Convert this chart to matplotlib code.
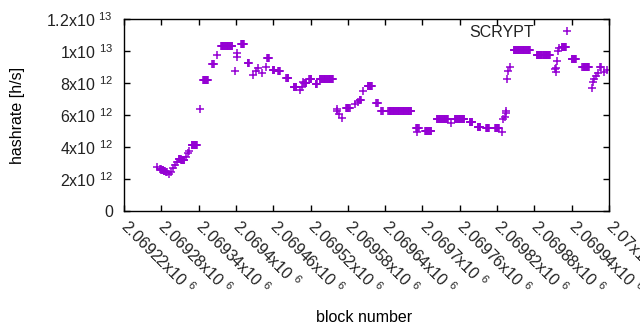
import numpy as np
import matplotlib
matplotlib.use("Agg")
import matplotlib.pyplot as plt

# runs of blocks that share the same hashrate estimate (start, end, value in 1e12 h/s)
run_start = [2069273, 2069278, 2069280, 2069284, 2069288, 2069292, 2069296, 2069299, 2069302, 2069305,
             2069308, 2069312, 2069320, 2069323, 2069325, 2069329, 2069342, 2069347, 2069362, 2069369,
             2069376, 2069399, 2069401, 2069402, 2069408, 2069419, 2069427, 2069432, 2069436, 2069442,
             2069448, 2069450, 2069459, 2069468, 2069481, 2069493, 2069503, 2069506, 2069508, 2069510,
             2069518, 2069528, 2069535, 2069562, 2069563, 2069566, 2069570, 2069577, 2069591, 2069596,
             2069599, 2069604, 2069612, 2069626, 2069634, 2069645, 2069690, 2069691, 2069704, 2069723,
             2069746, 2069752, 2069765, 2069776, 2069789, 2069802, 2069817, 2069828, 2069830, 2069833,
             2069834, 2069835, 2069836, 2069838, 2069841, 2069847, 2069884, 2069894, 2069913, 2069914,
             2069915, 2069916, 2069918, 2069920, 2069924, 2069940, 2069957, 2069973, 2069974, 2069976,
             2069979, 2069982, 2069986, 2069992, 2069997]
run_end = [2069273, 2069279, 2069283, 2069286, 2069289, 2069292, 2069296, 2069299, 2069302, 2069305,
           2069311, 2069317, 2069320, 2069323, 2069325, 2069337, 2069342, 2069355, 2069364, 2069369,
           2069394, 2069399, 2069401, 2069402, 2069413, 2069421, 2069427, 2069432, 2069436, 2069442,
           2069448, 2069453, 2069462, 2069471, 2069484, 2069497, 2069503, 2069506, 2069508, 2069513,
           2069521, 2069530, 2069556, 2069562, 2069563, 2069566, 2069570, 2069583, 2069591, 2069596,
           2069601, 2069604, 2069619, 2069628, 2069636, 2069682, 2069694, 2069691, 2069714, 2069741,
           2069746, 2069764, 2069767, 2069780, 2069793, 2069807, 2069823, 2069828, 2069830, 2069833,
           2069834, 2069835, 2069836, 2069838, 2069841, 2069873, 2069892, 2069905, 2069913, 2069914,
           2069915, 2069916, 2069918, 2069920, 2069931, 2069947, 2069968, 2069973, 2069974, 2069976,
           2069979, 2069982, 2069987, 2069992, 2069997]
run_value = [2.77, 2.63, 2.56, 2.50, 2.44, 2.31, 2.44, 2.69, 2.88, 3.06,
             3.25, 3.19, 3.38, 3.63, 3.75, 4.13, 6.38, 8.19, 9.17, 9.75,
             10.34, 8.75, 9.86, 9.61, 10.41, 9.22, 8.50, 8.77, 8.96, 8.61,
             8.98, 9.59, 8.81, 8.75, 8.34, 7.72, 7.56, 7.75, 8.06, 8.03,
             8.22, 7.91, 8.28, 6.25, 6.36, 6.06, 5.79, 6.44, 6.69, 6.81,
             6.91, 7.50, 7.84, 6.78, 6.28, 6.22, 5.16, 4.96, 5.03, 5.72,
             5.48, 5.78, 5.72, 5.59, 5.28, 5.16, 5.19, 4.96, 5.73, 5.89,
             6.14, 6.27, 8.25, 8.75, 9.02, 10.06, 9.75, 9.78, 8.86, 8.71,
             8.96, 9.39, 10.00, 10.17, 10.28, 9.47, 8.97, 7.67, 8.06, 8.25,
             8.44, 8.63, 9.00, 8.69, 8.81]

x_ticks = [2069220, 2069280, 2069340, 2069400, 2069460, 2069520, 2069580,
           2069640, 2069700, 2069760, 2069820, 2069880, 2069940, 2070000]
x_tick_labels = ["2.06922", "2.06928", "2.06934", "2.0694", "2.06946", "2.06952", "2.06958",
                 "2.06964", "2.0697", "2.06976", "2.06982", "2.06988", "2.06994", "2.07"]
y_ticks = [0, 2e12, 4e12, 6e12, 8e12, 1e13, 1.2e13]
y_tick_labels = ["0", "2x10 $^{12}$", "4x10 $^{12}$", "6x10 $^{12}$", "8x10 $^{12}$",
                 "1x10 $^{13}$", "1.2x10 $^{13}$"]

plt.rcParams['font.family'] = ['Liberation Sans', 'DejaVu Sans']
plt.rcParams['mathtext.fontset'] = 'custom'
plt.rcParams['mathtext.rm'] = 'Liberation Sans'
plt.rcParams['mathtext.it'] = 'Liberation Sans'
plt.rcParams['mathtext.bf'] = 'Liberation Sans'
plt.rcParams['font.size'] = 11.5
plt.rcParams['text.color'] = '#222222'

blocks = np.concatenate([np.arange(s, e + 1) for s, e in zip(run_start, run_end)])
hashrate = np.concatenate([np.full(e - s + 1, v) for s, e, v in zip(run_start, run_end, run_value)]) * 1e12

fig = plt.figure(figsize=(6.4, 3.3), dpi=100)
ax = fig.add_axes([124 / 640, 1 - 211 / 330, 485 / 640, 192 / 330])

ax.plot(blocks, hashrate, linestyle='none', marker='+', markersize=5.5, markeredgewidth=1.1,
        color='#9400d3', label='SCRYPT')

ax.set_xlim(2069220, 2070000)
ax.set_ylim(0, 1.2e13)
ax.set_xticks(x_ticks)
ax.set_xticklabels([l + "x10 $^{6}$" for l in x_tick_labels], rotation=-45, ha='left', va='center',
                   rotation_mode='anchor')
ax.set_yticks(y_ticks)
ax.set_yticklabels(y_tick_labels)
ax.tick_params(direction='in', length=4.5, width=1, top=True, right=True, colors='black',
               labelcolor='#222222')
ax.tick_params(axis='y', pad=8)
ax.tick_params(axis='x', pad=9)
for sp in ax.spines.values():
    sp.set_linewidth(1)

ax.set_xlabel("block number")
ax.set_ylabel("hashrate [h/s]")
ax.xaxis.set_label_coords((364 - 124) / 485, (211 - 310) / 192)
ax.yaxis.set_label_coords((25 - 124) / 485, 0.5)

ax.legend(loc='upper right', bbox_to_anchor=(583 / 640, 1 - 25 / 330), bbox_transform=fig.transFigure,
          frameon=False, markerfirst=False, numpoints=1, handlelength=2, handletextpad=1.1,
          borderpad=0, borderaxespad=0, markerscale=1.0)

fig.savefig("out.png", dpi=100)
